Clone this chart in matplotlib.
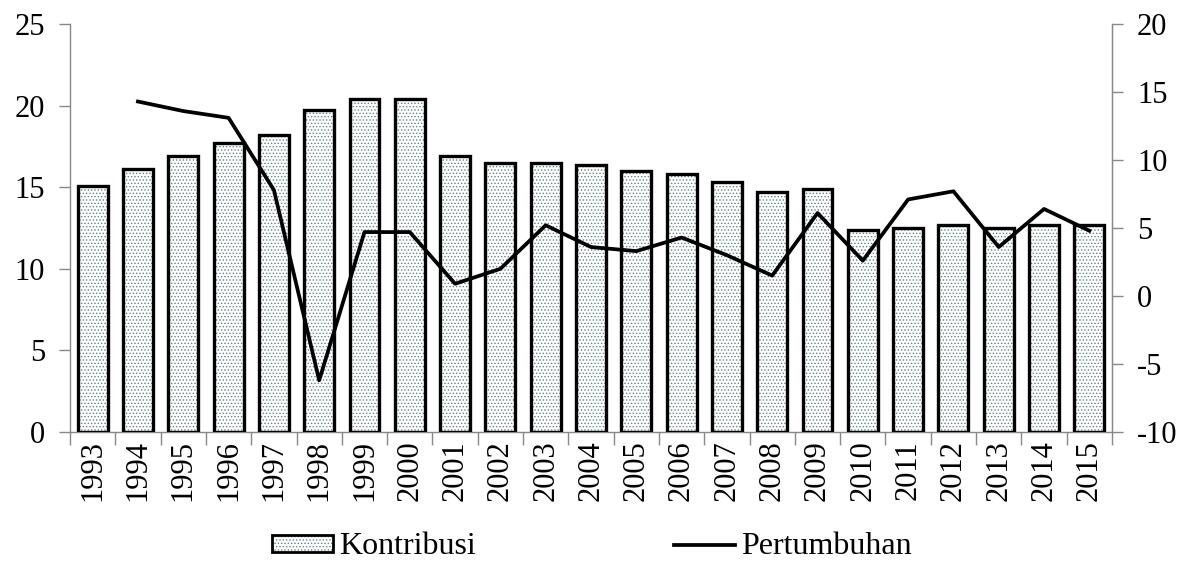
import matplotlib
matplotlib.use("Agg")
import matplotlib.pyplot as plt
from matplotlib.lines import Line2D
from matplotlib.patches import Patch
from matplotlib.legend_handler import HandlerTuple
import numpy as np

years = ["1993", "1994", "1995", "1996", "1997", "1998", "1999", "2000", "2001", "2002",
         "2003", "2004", "2005", "2006", "2007", "2008", "2009", "2010", "2011", "2012",
         "2013", "2014", "2015"]
kontribusi = [15.1, 16.1, 16.9, 17.7, 18.2, 19.7, 20.4, 20.4, 16.9, 16.5,
              16.5, 16.35, 16.0, 15.8, 15.3, 14.7, 14.9, 12.4, 12.5, 12.7,
              12.5, 12.7, 12.7]
pertumbuhan = [None, 14.3, 13.6, 13.1, 7.8, -6.2, 4.7, 4.7, 0.9, 2.0,
               5.2, 3.6, 3.3, 4.3, 3.0, 1.5, 6.1, 2.6, 7.1, 7.7,
               3.6, 6.4, 4.8]

plt.rcParams['font.family'] = ['Liberation Serif']
plt.rcParams['axes.unicode_minus'] = False
plt.rcParams['hatch.linewidth'] = 0.6
FS = 22
HCOL = '#5f8585'

fig = plt.figure(figsize=(11.91, 5.61), dpi=100)
ax = fig.add_axes([70/1191, 1-432/561, (1112-70)/1191, (432-24)/561])
x = np.arange(len(years))

ax.bar(x, kontribusi, width=0.66, color='white', edgecolor=HCOL,
       hatch='.....', linewidth=0, zorder=2)
ax.bar(x, kontribusi, width=0.66, fill=False, edgecolor='black',
       linewidth=2.4, zorder=3)

ax.set_xlim(-0.5, len(years) - 0.5)
ax.set_ylim(0, 25)
ax.set_yticks([0, 5, 10, 15, 20, 25])
ax.set_xticks(x)
ax.set_xticklabels(years, rotation=90, fontsize=FS)
ax.tick_params(axis='x', length=0, pad=6)
ax.set_xticks(np.arange(-0.5, len(years)), minor=True)
ax.tick_params(axis='x', which='minor', length=9, color='#888888', width=1)
ax.tick_params(axis='y', labelsize=FS, length=8, color='#888888', width=1, pad=10)

ax.spines['top'].set_visible(False)
for s in ['left', 'bottom', 'right']:
    ax.spines[s].set_color('#888888')
    ax.spines[s].set_linewidth(1)

ax2 = ax.twinx()
py = [np.nan if v is None else v for v in pertumbuhan]
ax2.plot(x, py, color='black', linewidth=2.7, zorder=5)
ax2.set_ylim(-10, 20)
ax2.set_yticks([-10, -5, 0, 5, 10, 15, 20])
ax2.tick_params(axis='y', labelsize=FS, length=8, color='#888888', width=1, pad=10)
ax2.spines['top'].set_visible(False)
ax2.spines['right'].set_color('#888888')
ax2.spines['left'].set_visible(False)
ax2.spines['bottom'].set_visible(False)

h1 = Patch(facecolor='white', edgecolor=HCOL, hatch='.....', linewidth=0)
h1b = Patch(fill=False, edgecolor='black', linewidth=2.0)
h2 = Line2D([0], [0], color='black', linewidth=2.7)
fig.legend([(h1, h1b), h2], ['Kontribusi', 'Pertumbuhan'],
           handler_map={tuple: HandlerTuple(ndivide=1, pad=0)},
           loc='center', bbox_to_anchor=(0.497, 1-547/561), ncol=2, frameon=False,
           fontsize=23, handlelength=1.9, handleheight=0.45, handletextpad=0.2,
           columnspacing=6.2, borderaxespad=0)

fig.savefig('out.png', dpi=100)
